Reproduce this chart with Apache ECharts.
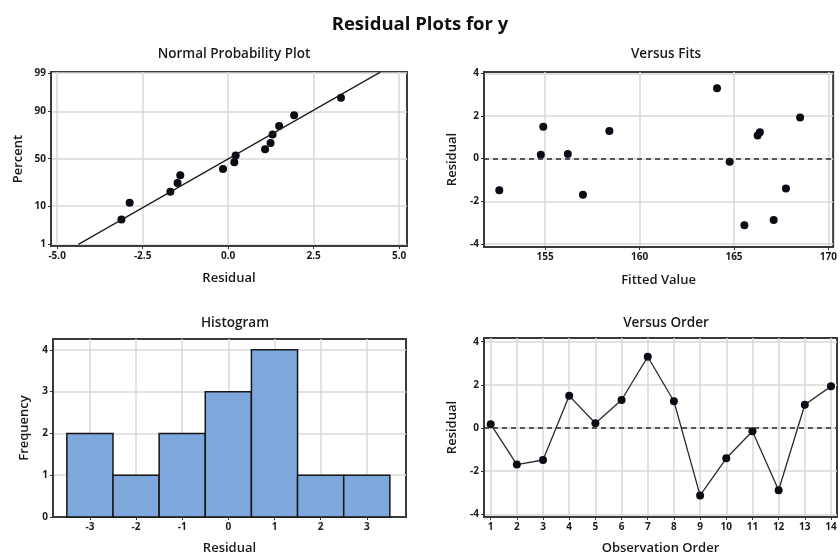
<!DOCTYPE html>
<html><head><meta charset="utf-8">
<script src="https://cdn.jsdelivr.net/npm/echarts@6/dist/echarts.min.js"></script>
<style>html,body{margin:0;padding:0;background:#fff}#c{width:840px;height:560px}</style>
</head><body><div id="c"></div>
<script>
// ---------- data ----------
const observationOrder = [1,2,3,4,5,6,7,8,9,10,11,12,13,14];
const residuals = [0.18,-1.69,-1.48,1.49,0.22,1.30,3.30,1.24,-3.12,-1.40,-0.15,-2.88,1.08,1.93];
const fittedValues = [154.77,157.0,152.57,154.9,156.2,158.4,164.1,166.37,165.55,167.75,164.77,167.1,166.25,168.5];
const normalResiduals = [-3.12,-2.88,-1.69,-1.48,-1.40,-0.15,0.18,0.22,1.08,1.24,1.30,1.49,1.93,3.30];
const normalPercents = [4.9,11.6,18.5,25.5,32.6,39.0,46.2,53.3,60.0,66.5,74.4,81.2,88.1,95.1];
const fitLineResidual = [-4.38, 4.45];
const fitLinePercent = [1, 99.06];
const histBinCenters = [-3,-2,-1,0,1,2,3];
const histCounts = [2,1,2,3,4,1,1];
const histBinWidth = 1;
// tick labels
const npXTicks = [-5,-2.5,0,2.5,5];
const npYTicks = [1,10,50,90,99];
const fitsXTicks = [155,160,165,170];
const residTicks = [-4,-2,0,2,4];
const histXTicks = [-3,-2,-1,0,1,2,3];
const histYTicks = [0,1,2,3,4];
const orderTicks = [1,2,3,4,5,6,7,8,9,10,11,12,13,14];

// normal probability scale (inverse normal CDF, Acklam)
function probit(p){
  const a=[-39.69683028665376,220.9460984245205,-275.9285104469687,138.3577518672690,-30.66479806614716,2.506628277459239];
  const b=[-54.47609879822406,161.5858368580409,-155.6989798598866,66.80131188771972,-13.28068155288572];
  const c=[-0.007784894002430293,-0.3223964580411365,-2.400758277161838,-2.549732539343734,4.374664141464968,2.938163982698783];
  const d=[0.007784695709041462,0.3224671290700398,2.445134137142996,3.754408661907416];
  const pl=0.02425;let q,r;
  if(p<pl){q=Math.sqrt(-2*Math.log(p));return (((((c[0]*q+c[1])*q+c[2])*q+c[3])*q+c[4])*q+c[5])/((((d[0]*q+d[1])*q+d[2])*q+d[3])*q+1);}
  if(p>1-pl){q=Math.sqrt(-2*Math.log(1-p));return -(((((c[0]*q+c[1])*q+c[2])*q+c[3])*q+c[4])*q+c[5])/((((d[0]*q+d[1])*q+d[2])*q+d[3])*q+1);}
  q=p-0.5;r=q*q;return (((((a[0]*r+a[1])*r+a[2])*r+a[3])*r+a[4])*r+a[5])*q/(((((b[0]*r+b[1])*r+b[2])*r+b[3])*r+b[4])*r+1);
}
const z = pct => probit(pct/100);

// ---------- styling ----------
const FONT = '"Open Sans", "Noto Sans", sans-serif';
const TXT = '#1a1a1a';
const MARK = '#0b0b16';
function axis(gridIndex, min, max, ticks, fmt, name, nameGap){
  return {
    type:'value', gridIndex, min, max,
    name, nameLocation:'middle', nameGap,
    nameTextStyle:{fontFamily:FONT, fontSize:13, fontWeight:600, color:TXT},
    axisLine:{show:true, onZero:false, lineStyle:{color:'#3a3a3a', width:2}},
    axisTick:{show:true, customValues:ticks, length:3, lineStyle:{color:'#333', width:1}},
    axisLabel:{customValues:ticks, formatter:fmt, fontFamily:FONT, fontSize:10, fontWeight:700, color:TXT, margin:5},
    splitLine:{show:true, lineStyle:{color:'#d9d9d9', width:1.5}}
  };
}
const grids = [
  {left:51, top:72, width:356, height:174},
  {left:484, top:72, width:354, height:175},
  {left:53, top:339, width:353, height:178},
  {left:484, top:338, width:353, height:179}
].map(g=>Object.assign(g,{show:true, borderColor:'#3a3a3a', borderWidth:2, backgroundColor:'#fff'}));

const npYz = npYTicks.map(z);
const npYfmt = v => { let best=0; npYz.forEach((t,i)=>{ if(Math.abs(t-v)<Math.abs(npYz[best]-v)) best=i; }); return String(npYTicks[best]); };
const intFmt = v => String(Math.round(v));

const zeroLine = {
  silent:true, symbol:'none', label:{show:false},
  lineStyle:{color:'#2a2a2a', type:[5,4], width:1.6},
  data:[{yAxis:0}]
};

const option = {
  animation:false,
  backgroundColor:'#fff',
  title:[
    {text:'Residual Plots for y', left:'center', top:10, textStyle:{fontFamily:FONT, fontSize:18.5, fontWeight:700, color:'#111'}},
    {text:'Normal Probability Plot', left:229, top:42, textAlign:'center', textStyle:{fontFamily:FONT, fontSize:13.5, fontWeight:600, color:TXT}},
    {text:'Versus Fits', left:661, top:42, textAlign:'center', textStyle:{fontFamily:FONT, fontSize:13.5, fontWeight:600, color:TXT}},
    {text:'Histogram', left:230, top:311, textAlign:'center', textStyle:{fontFamily:FONT, fontSize:13.5, fontWeight:600, color:TXT}},
    {text:'Versus Order', left:661, top:311, textAlign:'center', textStyle:{fontFamily:FONT, fontSize:13.5, fontWeight:600, color:TXT}}
  ],
  grid:grids,
  xAxis:[
    axis(0, -5.18, 5.23, npXTicks, v=>v.toFixed(1), 'Residual', 26),
    axis(1, 151.76, 170.25, fitsXTicks, intFmt, 'Fitted Value', 27),
    axis(2, -3.8, 3.85, histXTicks, intFmt, 'Residual', 25),
    axis(3, 0.745, 14.23, orderTicks, intFmt, 'Observation Order', 25)
  ],
  yAxis:[
    axis(0, -2.371, 2.353, npYz, npYfmt, 'Percent', 26),
    axis(1, -4.14, 4.06, residTicks, intFmt, 'Residual', 25),
    axis(2, 0, 4.26, histYTicks, intFmt, 'Frequency', 22),
    axis(3, -4.12, 4.17, residTicks, intFmt, 'Residual', 25)
  ],
  series:[
    {type:'line', xAxisIndex:0, yAxisIndex:0, symbol:'none', silent:true,
     data:fitLineResidual.map((r,i)=>[r, z(fitLinePercent[i])]),
     lineStyle:{color:'#1a1a1a', width:1.2}},
    {type:'scatter', xAxisIndex:0, yAxisIndex:0, symbolSize:8,
     itemStyle:{color:MARK, opacity:1},
     data:normalResiduals.map((r,i)=>[r, z(normalPercents[i])])},
    {type:'scatter', xAxisIndex:1, yAxisIndex:1, symbolSize:8,
     itemStyle:{color:MARK, opacity:1},
     data:fittedValues.map((f,i)=>[f, residuals[i]]),
     markLine:zeroLine},
    {type:'custom', xAxisIndex:2, yAxisIndex:2,
     data:histBinCenters.map((c,i)=>[c, histCounts[i]]),
     renderItem:(params, api)=>{
       const c = api.value(0), n = api.value(1);
       const p0 = api.coord([c-histBinWidth/2, n]);
       const p1 = api.coord([c+histBinWidth/2, 0]);
       return {type:'rect', shape:{x:p0[0], y:p0[1], width:p1[0]-p0[0], height:p1[1]-p0[1]},
               style:{fill:'#7ea8dc', stroke:'#151515', lineWidth:1.5}};
     }},
    {type:'line', xAxisIndex:3, yAxisIndex:3, symbol:'circle', symbolSize:8,
     itemStyle:{color:MARK, opacity:1}, lineStyle:{color:'#2a2a2a', width:1.3},
     data:observationOrder.map((o,i)=>[o, residuals[i]]),
     markLine:zeroLine}
  ]
};
const chart = echarts.init(document.getElementById('c'), null, {renderer:'canvas'});
chart.setOption(option);
</script>
</body></html>
